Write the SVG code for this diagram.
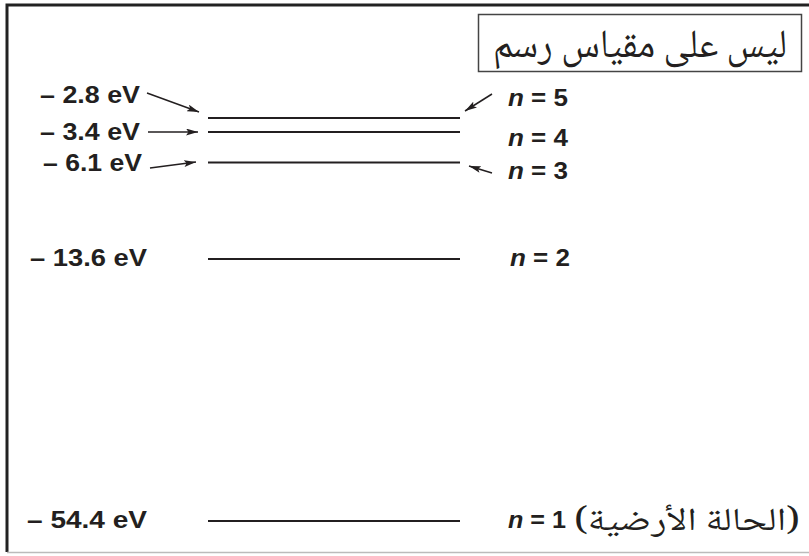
<svg xmlns="http://www.w3.org/2000/svg" width="809" height="556" viewBox="0 0 809 556">
<style>
.lbl{font-family:"Liberation Sans",Arial,sans-serif;font-weight:bold;font-size:24px;fill:#231f20}
.n{font-style:italic}
.ar{font-family:"Noto Naskh Arabic","Noto Sans Arabic","DejaVu Sans",sans-serif;fill:#231f20}
.lvl{stroke:#231f20;stroke-width:2;fill:none}
.arr{stroke:#231f20;stroke-width:1.5;fill:none;marker-end:url(#ah)}
</style>
<defs>
<marker id="ah" viewBox="0 0 12 7" refX="12" refY="3.5" markerWidth="12" markerHeight="7" markerUnits="userSpaceOnUse" orient="auto">
<path d="M0,0 L12,3.5 L0,7 L2.5,3.5 Z" fill="#231f20"/>
</marker>
</defs>
<rect width="809" height="556" fill="#fff"/>
<g id="frame">
<path d="M7,552 V5 H809" stroke="#222" stroke-width="3" fill="none"/>
<path d="M7,552.5 H809" stroke="#bbb" stroke-width="1.5" fill="none"/>
</g>
<g id="note">
<rect x="478.5" y="14.5" width="323" height="57" fill="#fff" stroke="#444" stroke-width="1.5"/>
<text class="ar" x="640" y="57" font-size="40" text-anchor="middle" textLength="294" lengthAdjust="spacingAndGlyphs">ليس على مقياس رسم</text>
</g>
<g id="level5">
<line class="lvl" x1="208" y1="118" x2="460" y2="118"/>
<text class="lbl" x="40" y="103" textLength="100" lengthAdjust="spacingAndGlyphs">– 2.8 eV</text>
<text class="lbl" x="508" y="106" textLength="60" lengthAdjust="spacingAndGlyphs"><tspan class="n">n</tspan> = 5</text>
</g>
<g id="level4">
<line class="lvl" x1="208" y1="132" x2="460" y2="132"/>
<text class="lbl" x="40" y="140" textLength="100" lengthAdjust="spacingAndGlyphs">– 3.4 eV</text>
<text class="lbl" x="508" y="146" textLength="60" lengthAdjust="spacingAndGlyphs"><tspan class="n">n</tspan> = 4</text>
</g>
<g id="level3">
<line class="lvl" x1="208" y1="162.5" x2="460" y2="162.5"/>
<text class="lbl" x="43" y="171" textLength="99" lengthAdjust="spacingAndGlyphs">– 6.1 eV</text>
<text class="lbl" x="508" y="179" textLength="60" lengthAdjust="spacingAndGlyphs"><tspan class="n">n</tspan> = 3</text>
</g>
<g id="level2">
<line class="lvl" x1="208" y1="259" x2="460" y2="259"/>
<text class="lbl" x="30" y="266" textLength="117" lengthAdjust="spacingAndGlyphs">– 13.6 eV</text>
<text class="lbl" x="510" y="266" textLength="60" lengthAdjust="spacingAndGlyphs"><tspan class="n">n</tspan> = 2</text>
</g>
<g id="level1">
<line class="lvl" x1="208" y1="521" x2="460" y2="521"/>
<text class="lbl" x="27" y="528" textLength="120" lengthAdjust="spacingAndGlyphs">– 54.4 eV</text>
<text class="lbl" x="508" y="528" textLength="58" lengthAdjust="spacingAndGlyphs"><tspan class="n">n</tspan> = 1</text>
<text class="ar" x="800" y="530" font-size="32" text-anchor="end" textLength="226" lengthAdjust="spacingAndGlyphs">(الحالة الأرضية)</text>
</g>
<g id="connectors">
<line class="arr" x1="147" y1="93" x2="199" y2="112"/>
<line class="arr" x1="148" y1="132" x2="198" y2="132"/>
<line class="arr" x1="150" y1="168" x2="196" y2="162"/>
<line class="arr" x1="492" y1="94" x2="465" y2="111"/>
<line class="arr" x1="492" y1="173" x2="469" y2="166"/>
</g>
</svg>
